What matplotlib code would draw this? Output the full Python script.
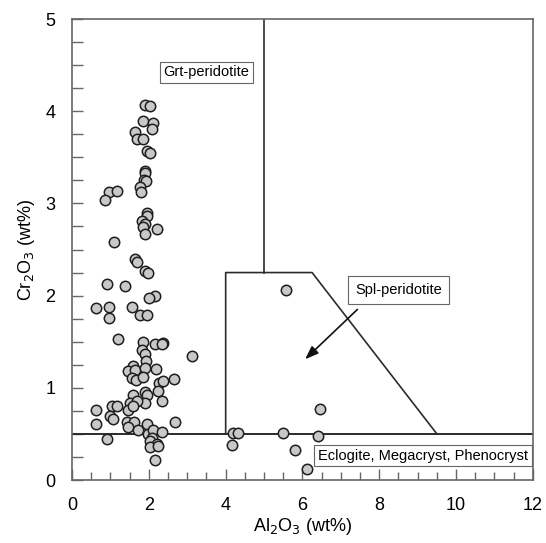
import matplotlib
matplotlib.use("Agg")
import matplotlib.pyplot as plt
from matplotlib.ticker import MultipleLocator

plt.rcParams['font.family'] = ['Liberation Sans', 'DejaVu Sans']

al2o3 = [1.90, 2.04, 1.85, 2.10, 2.07, 1.63, 1.70, 1.85, 1.94, 2.03,
         1.90, 1.91, 1.88, 1.92, 1.77, 1.79, 0.97, 1.18, 0.87,
         1.94, 1.96, 1.83, 1.90, 1.85, 2.20, 1.91, 1.09, 1.63, 1.68,
         1.90, 1.97, 0.92, 1.38, 2.17, 2.01,
         0.63, 0.95, 0.97, 1.57, 1.77, 1.94, 1.20, 1.85, 2.16, 2.37, 2.35,
         1.81, 1.90, 3.13, 1.92, 1.59, 1.46, 1.63, 1.90, 2.18, 1.55, 1.66,
         1.85, 2.27, 2.37, 2.66,
         1.59, 1.90, 1.94, 2.23, 2.33, 1.90, 1.50, 1.68, 1.46, 1.59,
         0.63, 1.03, 1.16, 0.98, 1.07, 0.63, 1.42, 1.62, 1.46, 1.72,
         1.96, 2.68, 1.98, 2.11, 2.33, 0.92, 2.07, 2.03, 2.20, 2.03,
         2.24, 2.17,
         5.57, 6.46, 4.20, 4.33, 5.48, 6.40, 4.16, 5.80, 6.11]
cr2o3 = [4.07, 4.06, 3.89, 3.87, 3.81, 3.77, 3.70, 3.70, 3.57, 3.55,
         3.35, 3.33, 3.25, 3.24, 3.18, 3.12, 3.12, 3.13, 3.04,
         2.90, 2.86, 2.81, 2.78, 2.74, 2.72, 2.67, 2.58, 2.40, 2.36,
         2.27, 2.24, 2.13, 2.10, 2.00, 1.97,
         1.87, 1.88, 1.76, 1.88, 1.79, 1.79, 1.53, 1.50, 1.48, 1.49, 1.48,
         1.41, 1.37, 1.34, 1.29, 1.24, 1.18, 1.19, 1.22, 1.20, 1.11, 1.09,
         1.12, 1.05, 1.07, 1.10,
         0.92, 0.95, 0.92, 0.97, 0.86, 0.83, 0.83, 0.86, 0.76, 0.80,
         0.76, 0.80, 0.80, 0.69, 0.66, 0.61, 0.63, 0.63, 0.58, 0.54,
         0.61, 0.63, 0.50, 0.54, 0.52, 0.45, 0.46, 0.42, 0.39, 0.36,
         0.37, 0.22,
         2.06, 0.77, 0.51, 0.51, 0.51, 0.48, 0.38, 0.33, 0.12]

# field boundaries
grt_line_x = [5, 5]
grt_line_y = [2.25, 5]
spl_x = [4, 4, 6.25, 9.5]
spl_y = [0.5, 2.25, 2.25, 0.5]
ecl_y = 0.5

fig = plt.figure(figsize=(5.46, 5.43), dpi=100)
ax = fig.add_axes([0.132, 0.116, 0.844, 0.849])

lc = '#2b2b2b'
ax.plot(grt_line_x, grt_line_y, color=lc, lw=1.2, zorder=2)
ax.plot(spl_x, spl_y, color=lc, lw=1.2, zorder=2)
ax.axhline(ecl_y, color=lc, lw=1.4, zorder=2)

ax.scatter(al2o3, cr2o3, s=56, facecolor='#c8c8c8', edgecolor='#1e1e1e',
           linewidths=1.1, zorder=3)

box = dict(boxstyle='square,pad=0.25', facecolor='white', edgecolor='#666666', lw=0.8)
ax.text(3.5, 4.42, 'Grt-peridotite', ha='center', va='center', fontsize=10.5,
        bbox=box, zorder=4)
ax.text(8.5, 2.06, 'Spl-peridotite', ha='center', va='center', fontsize=10.5,
        bbox=dict(boxstyle='square,pad=0.5', facecolor='white', edgecolor='#666666', lw=0.8),
        zorder=4)
ax.text(9.14, 0.265, 'Eclogite, Megacryst, Phenocryst', ha='center', va='center',
        fontsize=10.5, bbox=box, zorder=4)
ax.annotate('', xy=(6.07, 1.31), xytext=(7.43, 1.85),
            arrowprops=dict(arrowstyle='-|>,head_length=0.8,head_width=0.3',
                            color='#111111', lw=1.2, shrinkA=0, shrinkB=0),
            zorder=4)

ax.set_xlim(0, 12)
ax.set_ylim(0, 5)
ax.xaxis.set_major_locator(MultipleLocator(2))
ax.xaxis.set_minor_locator(MultipleLocator(0.5))
ax.yaxis.set_major_locator(MultipleLocator(1))
ax.yaxis.set_minor_locator(MultipleLocator(0.25))
ax.tick_params(which='major', direction='in', length=8, width=1, color='#666666',
               labelsize=13, pad=12)
ax.tick_params(which='minor', direction='in', length=6, width=1, color='#666666')
ax.tick_params(axis='y', which='minor', length=8)
for s in ax.spines.values():
    s.set_color('#666666')
    s.set_linewidth(1.2)

ax.set_xlabel('Al$_2$O$_3$ (wt%)', fontsize=13, labelpad=2)
ax.set_ylabel('Cr$_2$O$_3$ (wt%)', fontsize=13, labelpad=6)

fig.savefig('out.png', dpi=100)
